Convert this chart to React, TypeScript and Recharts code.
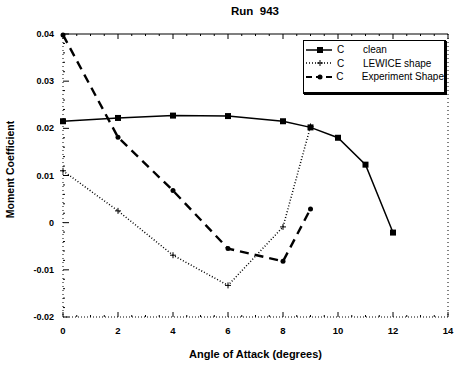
import { LineChart, Line, XAxis, YAxis } from 'recharts';

const angles = [0, 2, 4, 6, 8, 9, 10, 11, 12];
const clean = [0.0215, 0.0222, 0.0227, 0.0226, 0.0215, 0.0202, 0.018, 0.0123, -0.0021];
const lewice = [0.011, 0.0025, -0.0069, -0.0133, -0.0009, 0.0204];
const experiment = [0.0398, 0.0181, 0.0068, -0.0055, -0.0082, 0.0029];

const xMajor = [0, 2, 4, 6, 8, 10, 12, 14];
const xMinor = [0, 0.5, 1, 1.5, 2, 2.5, 3, 3.5, 4, 4.5, 5, 5.5, 6, 6.5, 7, 7.5, 8, 8.5, 9, 9.5, 10, 10.5, 11, 11.5, 12, 12.5, 13, 13.5, 14];
const yMajor = [-0.02, -0.01, 0, 0.01, 0.02, 0.03, 0.04];
const yMinor = [-0.02, -0.018, -0.016, -0.014, -0.012, -0.01, -0.008, -0.006, -0.004, -0.002, 0, 0.002, 0.004, 0.006, 0.008, 0.01, 0.012, 0.014, 0.016, 0.018, 0.02, 0.022, 0.024, 0.026, 0.028, 0.03, 0.032, 0.034, 0.036, 0.038, 0.04];
const yLabels = ['-0.02', '-0.01', '0', '0.01', '0.02', '0.03', '0.04'];

const data = angles.map((a, i) => ({
  angle: a,
  clean: clean[i],
  lewice: lewice[i],
  experiment: experiment[i],
}));

const font = '"Liberation Sans", Arial, sans-serif';

const isMajor = (list: number[], v: number) => list.findIndex((m) => Math.abs(m - v) < 1e-9);

const BottomTick = (props: any) => {
  const { x, y, payload } = props;
  const idx = isMajor(xMajor, payload.value);
  return (
    <g>
      <line x1={x} x2={x} y1={y} y2={y - (idx >= 0 ? 5 : 2)} stroke="#000" strokeWidth={1} />
      {idx >= 0 && (
        <text x={x} y={y + 17} textAnchor="middle" fontSize={9.5} fontWeight="bold" fontFamily={font} fill="#000">
          {xMajor[idx]}
        </text>
      )}
    </g>
  );
};

const TopTick = (props: any) => {
  const { x, y, payload } = props;
  const idx = isMajor(xMajor, payload.value);
  return <line x1={x} x2={x} y1={y} y2={y + (idx >= 0 ? 5 : 2)} stroke="#000" strokeWidth={1} />;
};

const LeftTick = (props: any) => {
  const { x, y, payload } = props;
  const idx = isMajor(yMajor, payload.value);
  return (
    <g>
      <line x1={x} x2={x + (idx >= 0 ? 6 : 2)} y1={y} y2={y} stroke="#000" strokeWidth={1} />
      {idx >= 0 && (
        <text x={x - 9} y={y + 3} textAnchor="end" fontSize={9} fontWeight="bold" fontFamily={font} fill="#000">
          {yLabels[idx]}
        </text>
      )}
    </g>
  );
};

const RightTick = (props: any) => {
  const { x, y, payload } = props;
  const idx = isMajor(yMajor, payload.value);
  return <line x1={x} x2={x - (idx >= 0 ? 5 : 2)} y1={y} y2={y} stroke="#000" strokeWidth={1} />;
};

const SquareDot = (props: any) => {
  const { cx, cy } = props;
  if (cx == null || cy == null) return null;
  return <rect x={cx - 3} y={cy - 3} width={6} height={6} fill="#000" />;
};

const CrossDot = (props: any) => {
  const { cx, cy } = props;
  if (cx == null || cy == null) return null;
  return (
    <g stroke="#000" strokeWidth={1}>
      <line x1={cx - 3} x2={cx + 3} y1={cy} y2={cy} />
      <line x1={cx} x2={cx} y1={cy - 3} y2={cy + 3} />
    </g>
  );
};

const RoundDot = (props: any) => {
  const { cx, cy } = props;
  if (cx == null || cy == null) return null;
  return <circle cx={cx} cy={cy} r={2.5} fill="#000" />;
};

const legendRows = [
  { label: 'clean', dash: undefined, width: 1.5, marker: 'square' },
  { label: 'LEWICE shape', dash: '1 2', width: 1.5, marker: 'cross' },
  { label: 'Experiment Shape', dash: '6 4', width: 2, marker: 'dot' },
];

const LegendBox = () => (
  <div
    style={{
      position: 'absolute',
      left: 303,
      top: 40,
      border: '1px solid #000',
      borderRightWidth: 2,
      borderBottomWidth: 2,
      boxShadow: '1px 1px 0 #000',
      background: '#fff',
      width: 143,
      height: 54,
      boxSizing: 'border-box',
      padding: '2px 0 0 1px',
      fontFamily: font,
      fontSize: 10,
      color: '#000',
      whiteSpace: 'nowrap',
      overflow: 'hidden',
    }}
  >
    {legendRows.map((r) => (
      <div key={r.label} style={{ display: 'flex', alignItems: 'center', height: 13.5 }}>
        <svg width={28} height={10}>
          <line x1={1} x2={27} y1={5} y2={5} stroke="#000" strokeWidth={r.width} strokeDasharray={r.dash} />
          {r.marker === 'square' && <rect x={12} y={2} width={6} height={6} fill="#000" />}
          {r.marker === 'cross' && (
            <g stroke="#000" strokeWidth={1}>
              <line x1={12} x2={18} y1={5} y2={5} />
              <line x1={15} x2={15} y1={2} y2={8} />
            </g>
          )}
          {r.marker === 'dot' && <circle cx={15} cy={5} r={2.5} fill="#000" />}
        </svg>
        <span style={{ width: 26, marginLeft: 4 }}>C</span>
        <span>{r.label}</span>
      </div>
    ))}
  </div>
);

const YLabel = (props: any) => {
  const { viewBox } = props;
  const cx = viewBox.x + 2;
  const cy = viewBox.y + viewBox.height / 2 - 6;
  return (
    <text
      x={cx}
      y={cy}
      transform={`rotate(-90, ${cx}, ${cy})`}
      textAnchor="middle"
      dominantBaseline="central"
      fontSize={10.5}
      fontWeight="bold"
      fontFamily={font}
      fill="#000"
    >
      Moment  Coefficient
    </text>
  );
};

export default function App() {
  return (
    <div style={{ position: 'absolute', left: 0, top: 0, width: 455, height: 365, background: '#fff' }}>
      <div
        style={{
          position: 'absolute',
          left: 0,
          width: 510,
          top: 5,
          textAlign: 'center',
          fontFamily: font,
          fontWeight: 'bold',
          fontSize: 11.5,
          whiteSpace: 'pre',
        }}
      >
        {'Run  943'}
      </div>
      <LineChart width={455} height={365} data={data} margin={{ top: 33, right: 6, left: 8, bottom: 18 }}>
        <XAxis
          dataKey="angle"
          type="number"
          domain={[0, 14]}
          ticks={xMinor}
          interval={0}
          tickSize={0}
          tickMargin={0}
          tickLine={false}
          tick={<BottomTick />}
          axisLine={{ stroke: '#000', strokeDasharray: '1 2' }}
          height={30}
          label={{
            value: 'Angle  of  Attack  (degrees)',
            position: 'insideBottom',
            offset: -11,
            fontSize: 11,
            fontWeight: 'bold',
            fontFamily: font,
            fill: '#000',
          }}
        />
        <XAxis
          xAxisId="top"
          orientation="top"
          dataKey="angle"
          type="number"
          domain={[0, 14]}
          ticks={xMinor}
          interval={0}
          tickSize={0}
          tickMargin={0}
          tickLine={false}
          tick={<TopTick />}
          axisLine={{ stroke: '#000', strokeWidth: 1.2 }}
          height={1}
        />
        <YAxis
          type="number"
          domain={[-0.02, 0.04]}
          ticks={yMinor}
          interval={0}
          tickSize={0}
          tickMargin={0}
          tickLine={false}
          tick={<LeftTick />}
          axisLine={{ stroke: '#000', strokeDasharray: '1 3' }}
          width={55}
          label={<YLabel />}
        />
        <YAxis
          yAxisId="right"
          orientation="right"
          type="number"
          domain={[-0.02, 0.04]}
          ticks={yMinor}
          interval={0}
          tickSize={0}
          tickMargin={0}
          tickLine={false}
          tick={<RightTick />}
          axisLine={{ stroke: '#000', strokeDasharray: '1 3' }}
          width={1}
        />
        <Line
          dataKey="clean"
          stroke="#000"
          strokeWidth={1.5}
          dot={<SquareDot />}
          isAnimationActive={false}
        />
        <Line
          dataKey="lewice"
          stroke="#000"
          strokeWidth={1.5}
          strokeDasharray="1 2"
          dot={<CrossDot />}
          isAnimationActive={false}
        />
        <Line
          dataKey="experiment"
          stroke="#000"
          strokeWidth={2.4}
          strokeDasharray="9 6"
          dot={<RoundDot />}
          isAnimationActive={false}
        />
      </LineChart>
      <LegendBox />
    </div>
  );
}
